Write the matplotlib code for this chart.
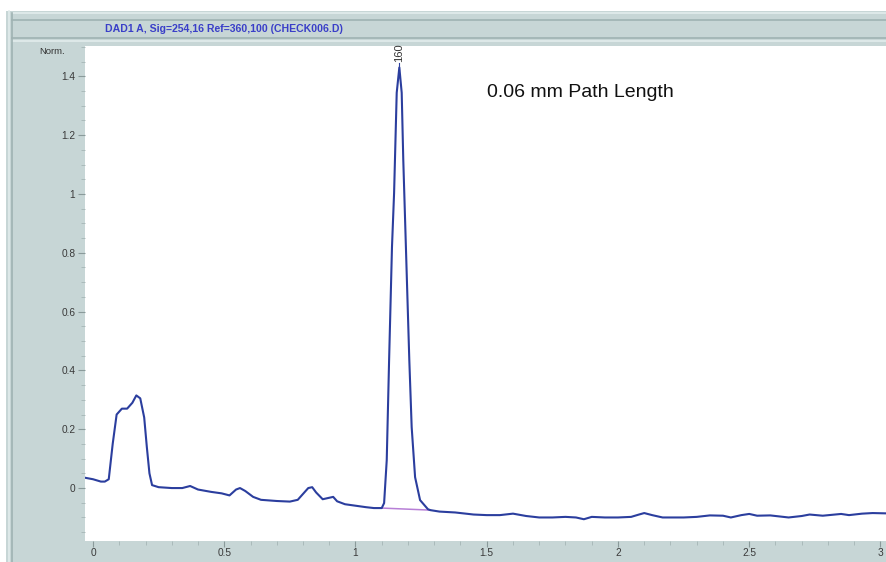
import matplotlib
matplotlib.use("Agg")
import matplotlib.pyplot as plt
from matplotlib.patches import Rectangle
from matplotlib.lines import Line2D
from matplotlib.ticker import MultipleLocator

plt.rcParams['font.family'] = ['Liberation Sans', 'DejaVu Sans']

# Chromatogram trace (retention time in min, absorbance in Norm.)
time_min = [
    -0.03, 0.00, 0.03, 0.045, 0.06, 0.075, 0.09, 0.11, 0.13, 0.15, 0.165, 0.18,
    0.195, 0.205, 0.215, 0.225, 0.25, 0.30, 0.34, 0.37, 0.40, 0.45, 0.49, 0.52,
    0.545, 0.56, 0.58, 0.61, 0.64, 0.70, 0.75, 0.78, 0.80, 0.82, 0.835, 0.85,
    0.875, 0.90, 0.915, 0.93, 0.96, 1.00, 1.04, 1.07, 1.100,
    1.109, 1.119, 1.128, 1.139, 1.147, 1.157, 1.167, 1.176, 1.182, 1.192, 1.205,
    1.214, 1.227, 1.246, 1.276, 1.285,
    1.32, 1.38, 1.45, 1.50, 1.55, 1.60, 1.65, 1.70, 1.75, 1.80, 1.84, 1.87, 1.90,
    1.95, 2.00, 2.05, 2.08, 2.10, 2.13, 2.17, 2.25, 2.30, 2.35, 2.40, 2.43, 2.47,
    2.50, 2.53, 2.58, 2.65, 2.70, 2.73, 2.78, 2.85, 2.88, 2.93, 2.97, 3.02,
]
signal = [
    0.035, 0.030, 0.022, 0.022, 0.030, 0.150, 0.250, 0.270, 0.270, 0.290, 0.315, 0.305,
    0.240, 0.140, 0.050, 0.010, 0.003, 0.000, 0.000, 0.007, -0.005, -0.013, -0.018, -0.025,
    -0.005, 0.000, -0.010, -0.030, -0.040, -0.044, -0.046, -0.040, -0.020, 0.000, 0.003, -0.015,
    -0.038, -0.033, -0.030, -0.045, -0.055, -0.060, -0.065, -0.068, -0.068,
    -0.051, 0.095, 0.435, 0.820, 1.003, 1.344, 1.430, 1.344, 1.116, 0.820, 0.435,
    0.207, 0.037, -0.041, -0.072, -0.075,
    -0.080, -0.083, -0.090, -0.092, -0.092, -0.087, -0.095, -0.100, -0.100, -0.098, -0.100, -0.106, -0.098,
    -0.100, -0.100, -0.098, -0.090, -0.085, -0.092, -0.100, -0.100, -0.098, -0.093, -0.094, -0.100, -0.092,
    -0.088, -0.094, -0.093, -0.100, -0.095, -0.090, -0.094, -0.088, -0.092, -0.087, -0.085, -0.086,
]

# Integration baseline under the main peak
baseline_t = [1.100, 1.285]
baseline_y = [-0.068, -0.075]

peak_rt = 1.167
peak_height = 1.430
peak_label = "160"

x_ticks = [0, 0.5, 1, 1.5, 2, 2.5, 3]
x_ticklabels = ["0", "0.5", "1", "1.5", "2", "2.5", "3"]
y_ticks = [0, 0.2, 0.4, 0.6, 0.8, 1.0, 1.2, 1.4]
y_ticklabels = ["0", "0.2", "0.4", "0.6", "0.8", "1", "1.2", "1.4"]

W, H = 886, 562
fig = plt.figure(figsize=(W / 100, H / 100), dpi=100)
fig.patch.set_facecolor("white")

frame_col = "#c7d6d6"
edge_dark = "#9fb2b2"
edge_light = "#e2ecec"


def fx(px):
    return px / W


def fy(py):
    return 1 - py / H


# window frame background
fig.patches.append(Rectangle((fx(6), 0), fx(W - 6), fy(11), transform=fig.transFigure,
                             facecolor=frame_col, edgecolor="none", zorder=-2))
# frame edge lines
for (x0, y0, x1, y1, c) in [
    (12, 13, 886, 13, edge_light),
    (12, 20, 886, 20, edge_dark),
    (12, 38, 886, 38, edge_dark),
    (12, 41, 886, 41, edge_light),
    (12, 13, 12, 562, edge_dark),
    (9, 11, 9, 562, edge_light),
]:
    fig.lines.append(Line2D([fx(x0), fx(x1)], [fy(y0), fy(y1)], transform=fig.transFigure,
                            color=c, lw=1.2, zorder=-1))

fig.text(fx(224), fy(29), "DAD1 A, Sig=254,16 Ref=360,100 (CHECK006.D)",
         color="#3a3fc8", fontsize=7.6, ha="center", va="center", fontweight="bold")

ax = fig.add_axes([fx(85), fy(541), fx(W - 85), fy(46) - fy(541)])
ax.set_zorder(5)
ax.set_facecolor("white")
ax.plot(time_min, signal, color="#2b3e9e", lw=1.5, zorder=3)
ax.plot(baseline_t, baseline_y, color="#b77fd6", lw=1.1, zorder=2)

ax.set_xlim(-0.0305, 3.021)
ax.set_ylim(-0.180, 1.503)

for s in ax.spines.values():
    s.set_visible(False)

ax.set_xticks(x_ticks)
ax.set_xticklabels(x_ticklabels)
ax.set_yticks(y_ticks)
ax.set_yticklabels(y_ticklabels)
ax.xaxis.set_minor_locator(MultipleLocator(0.1))
ax.yaxis.set_minor_locator(MultipleLocator(0.05))
ax.tick_params(axis="both", which="major", direction="out", length=5, width=0.8,
               color="#8a9a9a", labelsize=7.3, labelcolor="#3a3a3a", pad=2)
ax.tick_params(axis="x", which="major", length=4, pad=1)
ax.tick_params(axis="both", which="minor", direction="out", length=3, width=0.6,
               color="#a5b5b5")

fig.text(fx(52), fy(52), "Norm.", fontsize=6.8, color="#333333", ha="center", va="center")

ax.text(peak_rt, peak_height + 0.02, peak_label, rotation=90, fontsize=8,
        color="#333333", ha="center", va="bottom")
ax.plot([peak_rt, peak_rt], [peak_height - 0.01, peak_height + 0.015], color="#2b3e9e", lw=0.8)

ax.text(1.50, 1.345, "0.06 mm Path Length", fontsize=14, color="#111111",
        ha="left", va="center")

fig.savefig("out.png", dpi=100, facecolor=fig.get_facecolor())
